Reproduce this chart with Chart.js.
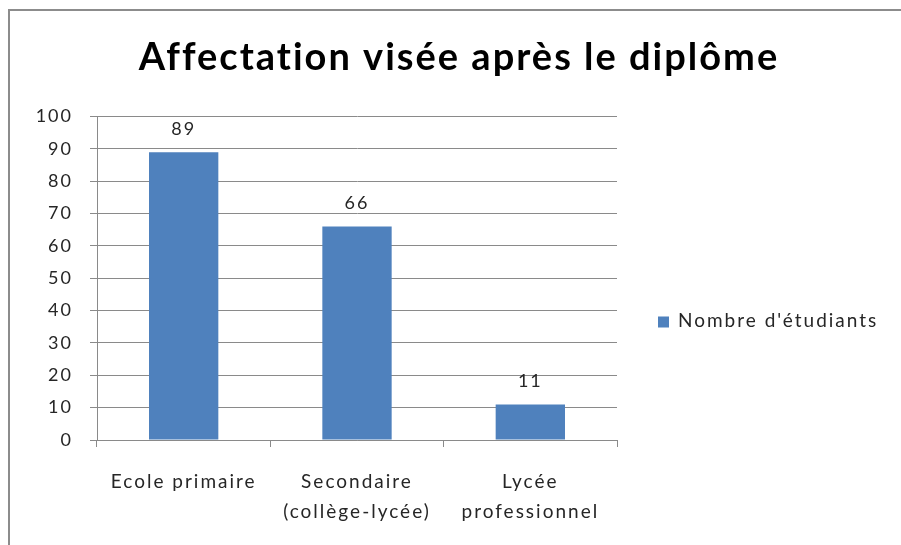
<!DOCTYPE html>
<html><head><meta charset="utf-8">
<script src="https://cdn.jsdelivr.net/npm/chart.js@4/dist/chart.umd.min.js"></script>
<style>
html,body{margin:0;padding:0;background:#fff;}
#wrap{position:relative;width:901px;height:545px;overflow:hidden;}
#frame{position:absolute;left:8px;top:9px;width:1000px;height:700px;border-left:2px solid #8c8c8c;border-top:2px solid #8c8c8c;box-sizing:border-box;}
canvas{position:absolute;left:0;top:0;}
</style></head>
<body><div id="wrap"><div id="frame"></div><canvas id="c" width="901" height="545"></canvas></div>
<script>
const titleText = "Affectation visée après le diplôme";
const categories = [["Ecole primaire"], ["Secondaire", "(collège-lycée)"], ["Lycée", "professionnel"]];
const seriesName = "Nombre d'étudiants";
const values = [89, 66, 11];
const yTicks = [0, 10, 20, 30, 40, 50, 60, 70, 80, 90, 100];

const FONT = "Lato, 'Open Sans', sans-serif";
const TXT = "#262626";
const SPACING = '2px';

const spacing = {
  id: 'spacing',
  beforeInit(chart) { chart.ctx.letterSpacing = SPACING; },
  beforeUpdate(chart) { chart.ctx.letterSpacing = SPACING; },
  beforeLayout(chart) { chart.ctx.letterSpacing = SPACING; },
  beforeDraw(chart) { chart.ctx.letterSpacing = SPACING; }
};

const valueLabels = {
  id: 'valueLabels',
  afterDatasetsDraw(chart) {
    const ctx = chart.ctx;
    const meta = chart.getDatasetMeta(0);
    ctx.save();
    ctx.letterSpacing = SPACING;
    ctx.font = "18px " + FONT;
    ctx.fillStyle = TXT;
    ctx.textAlign = 'center';
    ctx.textBaseline = 'bottom';
    meta.data.forEach((bar, i) => {
      ctx.fillText(String(values[i]), bar.x, bar.y - 14);
    });
    ctx.restore();
  }
};

// legend for the single series, placed to the right of the plot area
const sideLegend = {
  id: 'sideLegend',
  afterDraw(chart) {
    const ctx = chart.ctx;
    const ds = chart.data.datasets[0];
    const area = chart.chartArea;
    const bx = area.right + 41;
    const cy = 322;
    ctx.save();
    ctx.fillStyle = ds.backgroundColor;
    ctx.fillRect(bx, cy - 5.5, 11, 11);
    ctx.letterSpacing = SPACING;
    ctx.font = "19px " + FONT;
    ctx.fillStyle = TXT;
    ctx.textAlign = 'left';
    ctx.textBaseline = 'middle';
    ctx.fillText(ds.label, bx + 20, cy - 1);
    ctx.restore();
  }
};

new Chart(document.getElementById('c'), {
  type: 'bar',
  data: {
    labels: categories,
    datasets: [{
      label: seriesName,
      data: values,
      backgroundColor: '#4F81BD',
      borderWidth: 0,
      barPercentage: 0.4,
      categoryPercentage: 1.0,
      yAxisID: 'y'
    }]
  },
  options: {
    responsive: false,
    animation: false,
    layout: { padding: { left: 27, right: 10, top: 0, bottom: 18 } },
    plugins: {
      title: {
        display: true,
        text: titleText,
        color: '#000',
        font: { family: FONT, size: 38, weight: 'bold' },
        padding: { top: 35, bottom: 36 }
      },
      legend: { display: false },
      tooltip: { enabled: false }
    },
    scales: {
      y: {
        min: 0, max: 100,
        afterFit(scale) { scale.width = 70; },
        afterBuildTicks(scale) { scale.ticks = yTicks.map(v => ({ value: v })); },
        ticks: { color: TXT, font: { family: FONT, size: 18 }, padding: 17 },
        grid: { color: '#8a8a8a', lineWidth: 1, tickLength: 7 },
        border: { color: '#8a8a8a', width: 1 }
      },
      legendSpace: {
        type: 'linear',
        position: 'right',
        display: true,
        afterFit(scale) { scale.width = 274; },
        ticks: { display: false },
        grid: { display: false, drawOnChartArea: false },
        border: { display: false }
      },
      x: {
        afterFit(scale) { scale.height = 87; },
        ticks: { color: TXT, font: { family: FONT, size: 19, lineHeight: 1.58 }, padding: 20, maxRotation: 0 },
        grid: { drawOnChartArea: false, color: '#8a8a8a', tickLength: 7, offset: true },
        border: { color: '#8a8a8a', width: 1 }
      }
    }
  },
  plugins: [spacing, valueLabels, sideLegend]
});
</script></body></html>
